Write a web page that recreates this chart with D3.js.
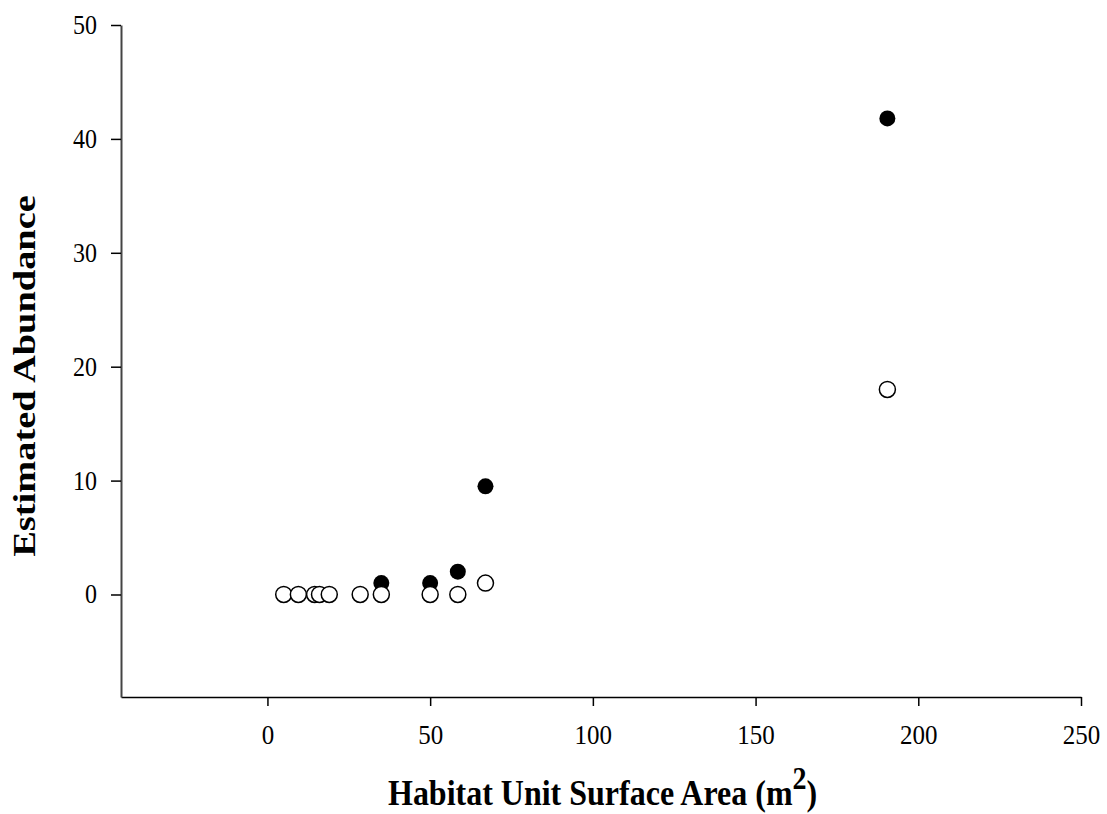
<!DOCTYPE html>
<html>
<head>
<meta charset="utf-8">
<script src="https://cdn.jsdelivr.net/npm/d3@7"></script>
<style>
	body { margin: 0; background: #fff; }
	text { font-family: 'Liberation Serif', 'Times New Roman', serif; }
</style>
</head>
<body>
<div id="chart"></div>
<script>
// open circles
const openX = [5, 9.5, 14.5, 16, 19, 28.5, 35, 50, 58.5, 67, 190.5]
const openY = [0, 0, 0, 0, 0, 0, 0, 0, 0, 1, 18]
// filled circles
const filledX = [35, 50, 58.5, 67, 190.5]
const filledY = [1, 1, 2, 9.5, 41.8]

const xTicks = [0, 50, 100, 150, 200, 250]
const yTicks = [0, 10, 20, 30, 40, 50]

const width = 1107,
	height = 814

// the text in the original looks a little taller than wide
const stretch = 1.1

const svg = d3
	.select('#chart')
	.append('svg')
	.attr('width', width)
	.attr('height', height)

const x = d3.scaleLinear().domain([-45, 250]).range([121, 1081])
const y = d3.scaleLinear().domain([-9, 50]).range([697, 25])

const openData = openX.map((d, i) => ({ x: d, y: openY[i] }))
const filledData = filledX.map((d, i) => ({ x: d, y: filledY[i] }))

// axes
const xAxis = svg
	.append('g')
	.attr('transform', `translate(0,${y(-9)})`)
	.call(
		d3
			.axisBottom(x)
			.tickValues(xTicks)
			.tickSize(9)
			.tickSizeOuter(0)
	)

xAxis.select('.domain').attr('stroke', '#000').attr('stroke-width', 1.5)
xAxis.selectAll('.tick line').attr('stroke-width', 1.5)
xAxis
	.selectAll('.tick text')
	.attr('font-size', 25)
	.attr('fill', '#000')
	.attr('y', 0)
	.attr('dy', null)
	.attr('transform', `translate(0,47) scale(1,${stretch})`)

const yAxis = svg
	.append('g')
	.attr('transform', `translate(${x(-45)},0)`)
	.call(
		d3
			.axisLeft(y)
			.tickValues(yTicks)
			.tickSize(10)
			.tickSizeOuter(0)
	)

yAxis.select('.domain').attr('stroke', '#444').attr('stroke-width', 2)
yAxis.selectAll('.tick line').attr('stroke-width', 1.5)
yAxis
	.selectAll('.tick text')
	.attr('font-size', 24)
	.attr('fill', '#000')
	.attr('x', 0)
	.attr('dy', '0.32em')
	.attr('transform', `translate(-24,0) scale(1,${stretch})`)

// points, filled first so open circles sit on top
svg.append('g')
	.selectAll('circle')
	.data(filledData)
	.enter()
	.append('circle')
	.attr('cx', d => x(d.x))
	.attr('cy', d => y(d.y))
	.attr('r', 8)
	.attr('fill', '#000')

svg.append('g')
	.selectAll('circle')
	.data(openData)
	.enter()
	.append('circle')
	.attr('cx', d => x(d.x))
	.attr('cy', d => y(d.y))
	.attr('r', 8)
	.attr('fill', '#fff')
	.attr('stroke', '#000')
	.attr('stroke-width', 1.5)

// axis titles
const xTitle = svg
	.append('text')
	.attr('transform', `translate(388,805) scale(1,${stretch})`)
	.attr('font-size', 32)
	.attr('font-weight', 'bold')

xTitle.append('tspan').text('Habitat Unit Surface Area (m')
xTitle.append('tspan').attr('dy', -15).attr('font-size', 28).text('2')
xTitle.append('tspan').attr('dy', 15).text(')')

svg.append('text')
	.attr('transform', 'translate(35,376) rotate(-90) scale(1.2,1)')
	.attr('text-anchor', 'middle')
	.attr('font-size', 32)
	.attr('font-weight', 'bold')
	.text('Estimated Abundance')
</script>
</body>
</html>
